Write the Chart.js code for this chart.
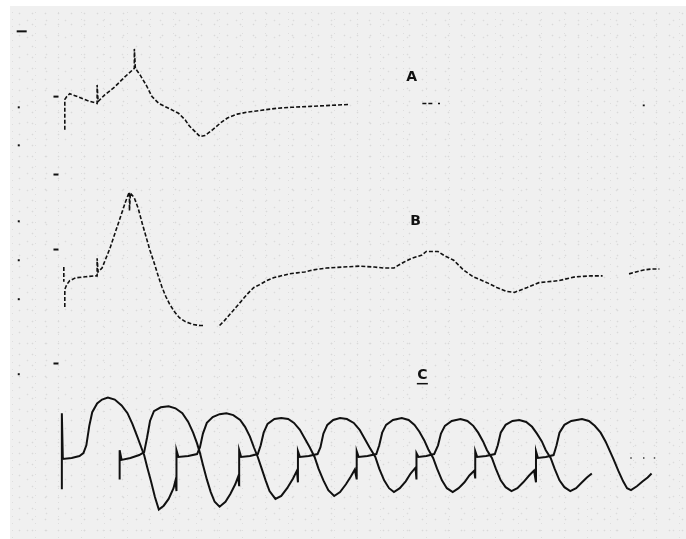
<!DOCTYPE html>
<html>
<head>
<meta charset="utf-8">
<script src="https://cdn.jsdelivr.net/npm/chart.js@4.4.1/dist/chart.umd.min.js"></script>
<style>
    html, body { margin: 0; padding: 0; background: #ffffff; }
    #wrap { position: relative; width: 686px; height: 539px; }
    #paper {
        position: absolute; left: 10px; top: 6px; right: 0; bottom: 0;
        background-color: #f0f0f0;
        background-image:
            radial-gradient(circle, #d9d9d9 0.7px, transparent 1.1px),
            radial-gradient(circle, #dcdcdc 0.7px, transparent 1.1px),
            radial-gradient(circle, #dddddd 0.6px, transparent 1px);
        background-size: 13px 11px, 19px 17px, 23px 7px;
        background-position: 3px 2px, 8px 6px, 14px 3px;
    }
    #traces { position: absolute; left: 0; top: 0; }
</style>
</head>
<body>
<div id="wrap">
    <div id="paper"></div>
    <canvas id="traces" width="686" height="539"></canvas>
</div>
<script>
// координаты: x — время (развёртка), y — уровень сигнала (вниз растёт)
const traceA = [
    [59,126],[59,95],[61,92],[64,89],[72,92],[82,96],[92,99],[92,80],[93,97],[100,90],[110,82],[120,72],
    [130,63],[130,43],[131,63],[136,70],[142,80],[148,92],[155,99],[165,104],[175,109],[182,116],[186,122],
    [192,128],[197,133],[202,132],[210,126],[218,119],[225,114],[235,110],[245,108],[260,106],[275,104],
    [290,103],[310,102],[330,101],[350,100],
    null, [424,99],[436,99],
    null, [440,99],[442,99],
    null, [649,101],[651,101]
];

const traceB = [
    [58,267],[58,282], null,
    [59,308],[59,290],[61,285],[64,281],[70,278],[80,277],[90,276],[92,276],[92,258],[93,272],[97,268],
    [101,258],[105,248],[109,236],[113,224],[117,212],[121,200],[124,192],[125,190],[125,209],[126,191],
    [130,196],[134,207],[138,222],[142,236],[146,250],[150,262],[154,275],[158,287],[162,297],[166,305],
    [171,313],[176,319],[182,323],[190,326],[197,327],[202,327],
    null, [217,327],[222,322],[228,315],[234,308],
    [240,301],[246,294],[252,288],[258,285],[265,281],[272,278],[280,276],[288,274],[296,273],[304,272],
    [312,270],[326,268],[343,267],[360,266],[375,267],[385,268],[395,268],[398,266],[405,262],[413,258],
    [423,255],[428,251],[440,251],[446,255],[456,260],[466,270],[476,277],[490,283],[500,288],[510,292],
    [518,293],[531,288],[543,283],[563,281],[580,277],[596,276],[608,276],
    null, [635,274],[642,272],[650,270],[658,269],[666,269]
];

// развёртка C — две чередующиеся развёртки
const traceC1 = [
    [56,495],[56,417],[57,464],[66,463],[74,461],[78,458],[81,450],[84,430],[87,416],[92,407],[97,403],
    [103,401],[110,403],[117,409],[123,417],[128,428],[133,441],[137,452],[140,460],[143,472],[147,487],
    [151,503],[155,516],[160,512],[165,505],[170,494],[172,486],
    [173,497],[173,455],[175,462],[185,461],[194,459],
    [197,452],[200,438],[204,427],[210,421],[217,418],[224,417],[231,419],[238,424],[243,431],[248,441],
    [252,452],[256,462],[260,474],[264,486],[268,497],[274,505],[280,502],[286,494],[292,484],[296,476],
    [297,488],[297,456],[299,462],[308,461],[317,459],
    [320,452],[323,438],[327,429],[333,424],[340,422],[347,423],[354,427],[360,434],[365,443],[370,452],
    [376,462],[380,474],[385,486],[390,494],[395,498],[401,494],[407,487],[412,479],[417,473],
    [418,485],[418,458],[420,462],[428,461],[436,459],
    [440,450],[443,438],[447,430],[454,425],[463,423],[470,425],[476,430],[481,437],[486,446],[490,455],
    [495,463],[499,474],[504,486],[509,493],[515,497],[521,494],[527,488],[533,481],[538,476],
    [540,488],[540,456],[542,463],[550,462],[558,460],
    [561,450],[564,437],[569,429],[576,425],[587,423],[594,425],[600,430],[606,437],[611,446],[615,455],
    [619,464],[624,476],[629,487],[633,494],[637,496],[643,492],[649,487],[654,483],[658,479]
];

const traceC2 = [
    [115,485],[115,455],[117,465],[126,463],[135,460],[140,457],
    [143,442],[146,425],[150,415],[157,411],[165,410],[172,412],[179,417],[185,426],[190,437],[194,448],
    [197,458],[200,470],[204,485],[208,498],[212,508],[217,513],[223,508],[228,500],[233,490],[236,482],
    [237,492],[237,455],[239,462],[248,461],[256,459],
    [259,450],[262,437],[266,428],[273,423],[280,422],[287,423],[293,427],[299,434],[304,443],[309,452],
    [314,462],[318,474],[323,486],[328,496],[334,502],[340,498],[346,490],[351,482],[355,475],
    [357,485],[357,456],[359,462],[368,461],[377,459],
    [380,450],[383,437],[387,429],[394,424],[403,422],[410,424],[416,429],[421,436],[426,445],[430,454],
    [435,463],[439,474],[444,486],[449,494],[455,498],[461,494],[467,488],[472,481],[477,476],
    [478,484],[478,456],[480,462],[489,461],[498,459],
    [501,450],[504,437],[509,429],[516,425],[523,424],[530,426],[536,431],[541,438],[546,446],[550,455],
    [555,463],[559,474],[564,486],[569,493],[575,497],[581,494],[587,488],[592,483],[597,479]
];

const trailDots = [[637,463],[650,463],[661,463]];

// метки на левом краю
const longTicks = [[15,25]];
const shortTicks = [[50,92],[50,172],[50,249],[50,366]];
const dotTicks = [[12,103],[12,142],[12,220],[12,260],[12,300],[12,377]];

const traceLabels = ['A', 'B', 'C'];
const labelX = [413, 417, 424];
const labelY = [72, 220, 378];

function toPoints(arr) {
    return arr.map(p => p === null ? {x: null, y: null} : {x: p[0], y: p[1]});
}

const labelPlugin = {
    id: 'traceLabels',
    afterDatasetsDraw(chart) {
        const ctx = chart.ctx;
        const sx = chart.scales.x;
        const sy = chart.scales.y;
        ctx.save();
        ctx.fillStyle = '#111';
        ctx.strokeStyle = '#111';
        ctx.font = 'bold 14px "DejaVu Sans", sans-serif';
        ctx.textAlign = 'center';
        ctx.textBaseline = 'middle';
        traceLabels.forEach((t, i) => {
            const px = sx.getPixelForValue(labelX[i]);
            const py = sy.getPixelForValue(labelY[i]);
            ctx.fillText(t, px, py);
            if (t === 'C') { // подчёркнутая буква
                ctx.lineWidth = 1.5;
                ctx.beginPath();
                ctx.moveTo(px - 5.5, py + 8.5);
                ctx.lineTo(px + 5.5, py + 8.5);
                ctx.stroke();
            }
        });
        ctx.restore();
    }
};

const lineStyle = {
    showLine: true,
    spanGaps: false,
    pointRadius: 0,
    borderColor: '#111',
    tension: 0,
    fill: false
};

const ctx = document.getElementById('traces').getContext('2d');
const chart = new Chart(ctx, {
    type: 'scatter',
    data: {
        datasets: [
            Object.assign({label: 'A', data: toPoints(traceA), borderWidth: 1.6, borderDash: [4, 2]}, lineStyle),
            Object.assign({label: 'B', data: toPoints(traceB), borderWidth: 1.6, borderDash: [4, 2]}, lineStyle),
            Object.assign({label: 'C1', data: toPoints(traceC1), borderWidth: 2}, lineStyle),
            Object.assign({label: 'C2', data: toPoints(traceC2), borderWidth: 2}, lineStyle),
            {label: 'dots', data: toPoints(trailDots), showLine: false, pointRadius: 1, pointStyle: 'rect',
                backgroundColor: '#333', borderWidth: 0},
            {label: 'ticksLong', data: toPoints(longTicks), showLine: false, pointStyle: 'line', pointRadius: 5,
                borderColor: '#111', borderWidth: 2},
            {label: 'ticksShort', data: toPoints(shortTicks), showLine: false, pointStyle: 'line', pointRadius: 2.5,
                borderColor: '#111', borderWidth: 2},
            {label: 'ticksDot', data: toPoints(dotTicks), showLine: false, pointStyle: 'rect', pointRadius: 1.4,
                backgroundColor: '#111', borderWidth: 0}
        ]
    },
    options: {
        responsive: false,
        animation: false,
        layout: {padding: 0},
        plugins: {
            legend: {display: false},
            tooltip: {enabled: false},
            title: {display: false}
        },
        scales: {
            x: {type: 'linear', min: 0, max: 686, display: false},
            y: {type: 'linear', min: 0, max: 539, reverse: true, display: false}
        }
    },
    plugins: [labelPlugin]
});
</script>
</body>
</html>
